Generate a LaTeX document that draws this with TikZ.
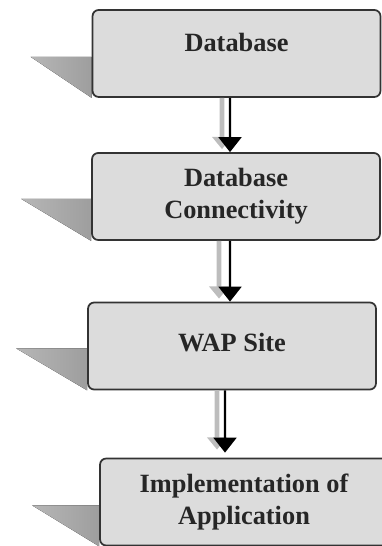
\documentclass[tikz,border=0pt]{standalone}
\usepackage{fontspec}
\setmainfont{Liberation Serif}
\usetikzlibrary{arrows.meta,backgrounds}
\definecolor{boxfill}{HTML}{DCDCDC}
\definecolor{boxline}{HTML}{333333}
\definecolor{shadegray}{HTML}{9E9E9E}
\definecolor{trailgray}{HTML}{BDBDBD}

\begin{document}
\begin{tikzpicture}[x=0.02cm,y=-0.02cm,
  stage/.style={draw=boxline,line width=1pt,fill=boxfill,rounded corners=3.5pt,minimum width=5.76cm,minimum height=1.74cm,align=center,font=\fontsize{15}{18}\selectfont\bfseries,text=black!85},
  flow/.style={line width=1.3pt,-{Triangle[width=13pt,length=8.5pt]}},
  trail/.style={trailgray,line width=2.6pt,-{Triangle[width=11pt,length=7pt]}}]
\useasboundingbox (0,0) rectangle (381,546);
\node[stage,text depth=0.44cm] (db) at (236.5,53.5) {Database};
\node[stage] (conn) at (236,196.5) {Database\\Connectivity};
\node[stage,text depth=0.16cm] (wap) at (232,346) {WAP Site};
\node[stage] (impl) at (244,502) {Implementation of\\Application};
% wedge shadows on the left
\begin{scope}[on background layer]
\foreach \n/\w/\h in {db/61/41,conn/70/42,wap/71/42,impl/67/41}
  \fill[left color=shadegray!75,right color=shadegray] (\n.south west) -- ++(0,-\h) -- ++(-\w,0) -- cycle;
\end{scope}
% arrows between stages
\draw[trail] ([xshift=-0.29cm]db.south) -- ([xshift=-0.28cm,yshift=0.06cm]conn.north);
\draw[flow] ([xshift=-0.13cm]db.south) -- ([xshift=-0.12cm]conn.north);
\draw[trail] ([xshift=-0.34cm]conn.south) -- ([xshift=-0.26cm,yshift=0.06cm]wap.north);
\draw[flow] ([xshift=-0.12cm]conn.south) -- ([xshift=-0.04cm]wap.north);
\draw[trail] ([xshift=-0.30cm]wap.south) -- ([xshift=-0.54cm,yshift=0.16cm]impl.north);
\draw[flow] ([xshift=-0.14cm]wap.south) -- ([xshift=-0.38cm,yshift=0.1cm]impl.north);
\end{tikzpicture}
\end{document}
